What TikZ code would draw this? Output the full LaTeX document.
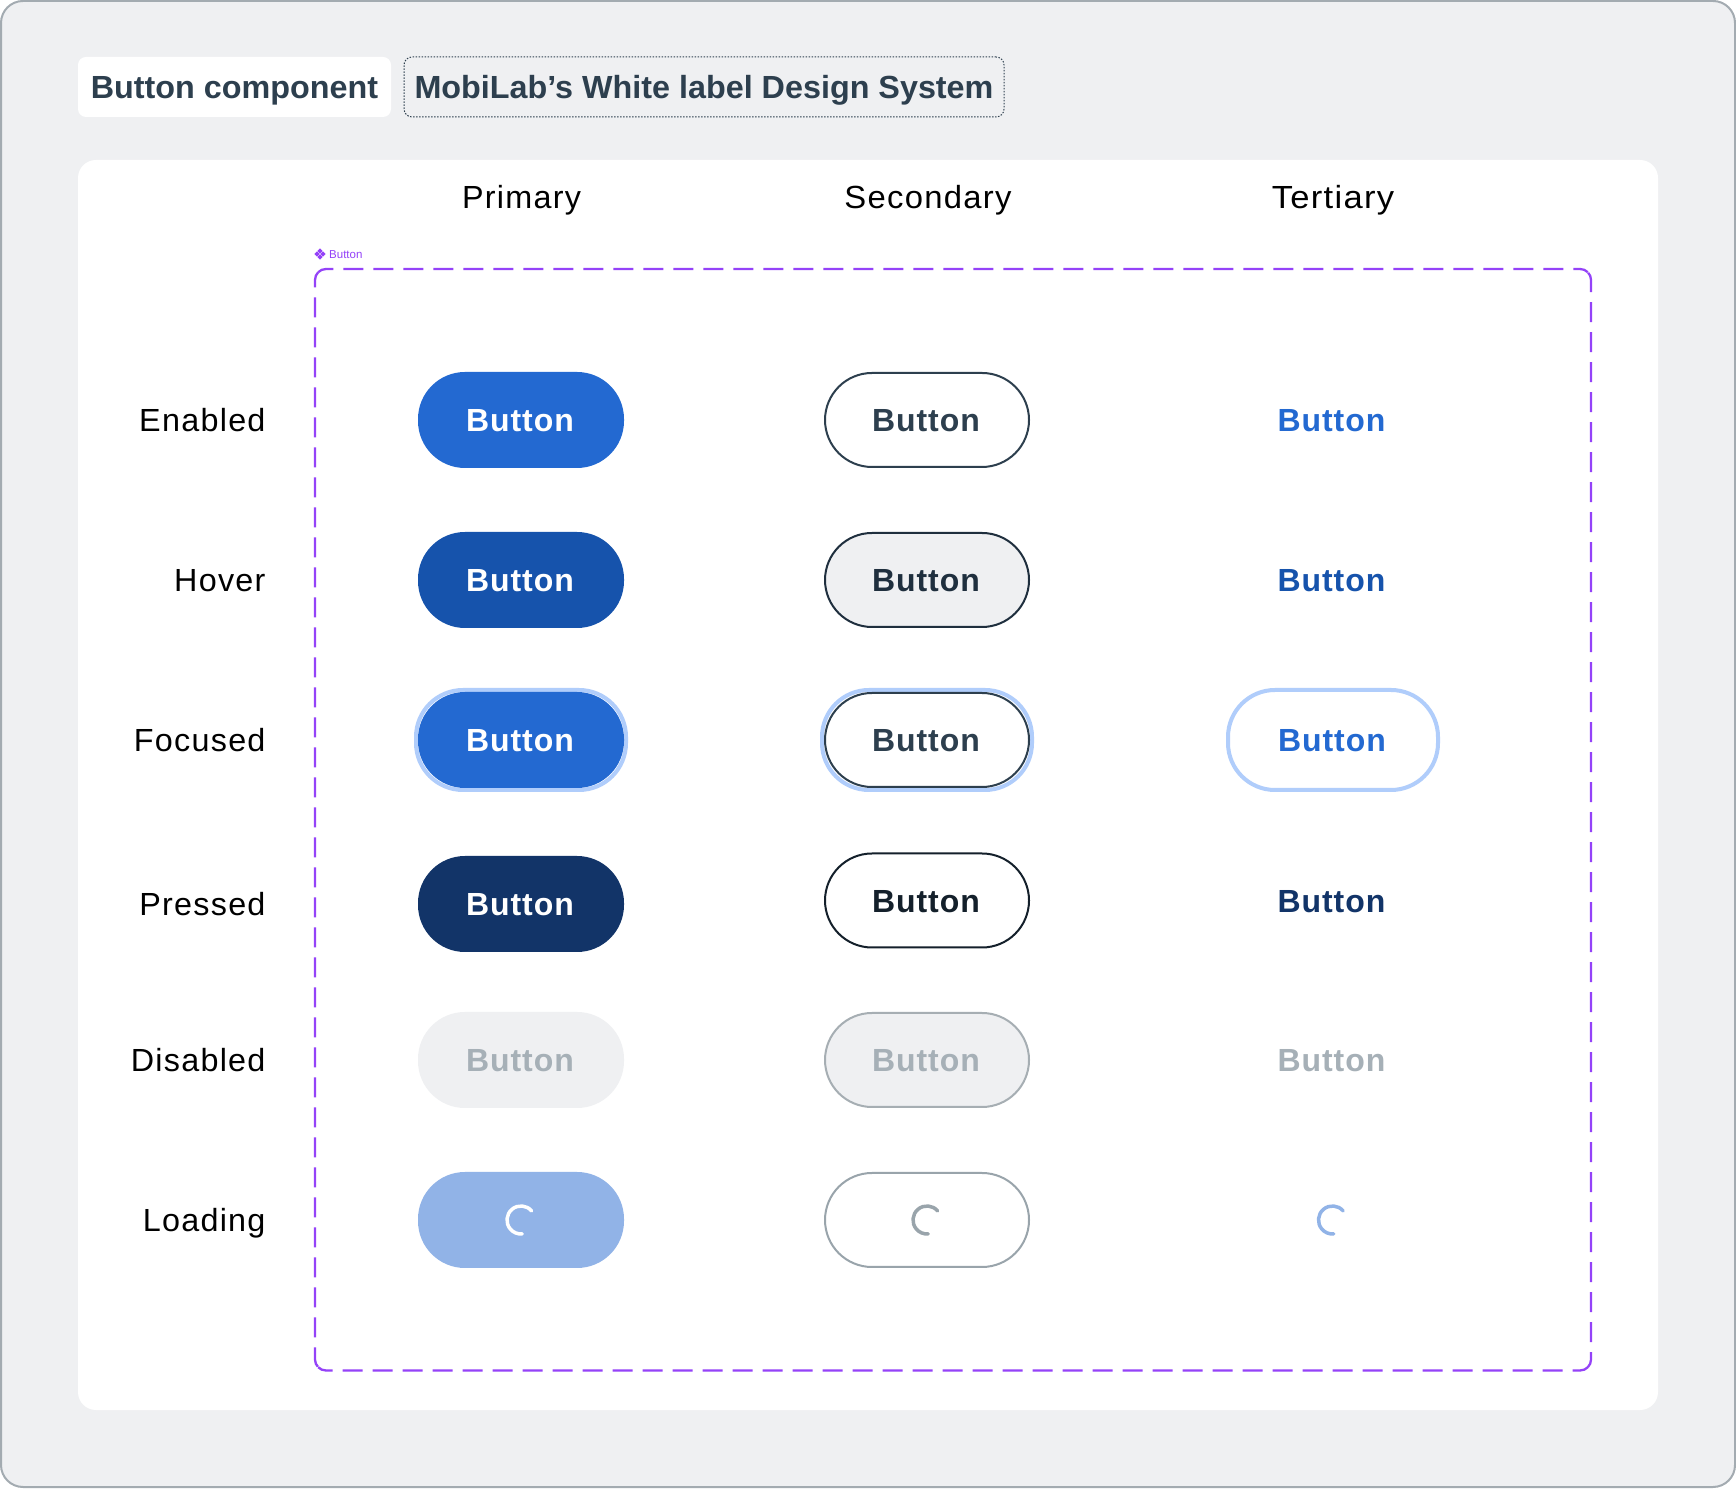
\documentclass[tikz,border=0pt]{standalone}
\usepackage{fontspec}
\setmainfont{Liberation Sans}[LetterSpace=3]
\newfontfamily\chipfont{Liberation Sans}[FakeStretch=1.01]
\newfontfamily\labelfont{Liberation Sans}[LetterSpace=4,FakeStretch=1.01]
\newfontfamily\secfont{Liberation Sans}[LetterSpace=4,FakeStretch=1.025]
\newfontfamily\terfont{Liberation Sans}[LetterSpace=4,FakeStretch=1.08]
\newfontfamily\tagfont{Liberation Sans}
\definecolor{pagebg}{HTML}{EFF0F2}
\definecolor{pageedge}{HTML}{A3ABB1}
\definecolor{ink}{HTML}{2D3F4E}
\definecolor{inkhover}{HTML}{1F2F3E}
\definecolor{inkpress}{HTML}{14202B}
\definecolor{btnblue}{HTML}{2369D1}
\definecolor{bluehover}{HTML}{1653AC}
\definecolor{bluepress}{HTML}{123468}
\definecolor{bluelight}{HTML}{91B3E7}
\definecolor{ringblue}{HTML}{B0CDFB}
\definecolor{greytext}{HTML}{A6B0B7}
\definecolor{greyedge}{HTML}{A6AEB3}
\definecolor{greyload}{HTML}{99A4AB}
\definecolor{framevio}{HTML}{9442F8}
\tikzset{
  x=1pt,y=1pt,
  btnfont/.style={inner sep=0pt,text height=24pt,text depth=0pt,font=\fontsize{32}{36}\selectfont\bfseries},
  pill/.style={btnfont,shape=rectangle,rounded corners=47pt},
  solidbtn/.style={pill,minimum width=206pt,minimum height=96pt,fill=#1,text=white},
  outlinebtn/.style={pill,minimum width=204pt,minimum height=94pt,draw=#1,line width=2pt,fill=white},
  ringbtn/.style={pill,minimum width=210pt,minimum height=100pt,draw=ringblue,line width=4pt,fill=white},
  textbtn/.style={btnfont,text=#1},
  rowlabel/.style={anchor=base east,inner sep=0pt,text=black,font=\labelfont\fontsize{32}{36}\selectfont},
  collabel/.style={anchor=base,inner sep=0pt,text=black,font=\labelfont\fontsize{32}{36}\selectfont},
  chip/.style={inner sep=0pt,text height=24pt,text depth=0pt,rounded corners=8pt,minimum height=60pt,text=ink,
    font=\chipfont\fontsize{32}{36}\selectfont\bfseries},
  spinner/.style={line width=3.5pt,line cap=round,draw=#1},
  tagmark/.style={fill=framevio},
  frameside/.style={framevio,line width=2.3pt,dash pattern=on 20pt off 10pt,dash phase=4pt}
}
\newcommand{\spinat}[2]{\draw[spinner=#2] ([shift={(40:14pt)}]#1.center) arc[start angle=40,end angle=275,radius=14pt];}
\newcommand{\tagdiamond}[2]{\fill[tagmark] (#1+2.6,#2) -- (#1,#2+2.6) -- (#1-2.6,#2) -- (#1,#2-2.6) -- cycle;}
\newcommand{\btntext}{Button\hspace*{2pt}}
\begin{document}
\begin{tikzpicture}
\useasboundingbox (0,0) rectangle (1736,1488);
\draw[fill=pagebg,draw=pageedge,line width=2pt,rounded corners=22pt] (1,1) rectangle (1735,1487);
\fill[white,rounded corners=18pt] (78,78) rectangle (1658,1328);
% title chips
\node[chip,fill=white,minimum width=313pt] (titleA) at (234.5,1401) {Button component};
\node[chip,draw=ink,line width=1pt,dash pattern=on 1.5pt off 1.5pt,minimum width=600pt] (titleB) at (704,1401) {MobiLab’s White label Design System};
% column heads
\node[collabel] (colP) at (521.5,1279.5) {Primary};
\node[collabel,font=\secfont\fontsize{32}{36}\selectfont] (colS) at (928,1279.5) {Secondary};
\node[collabel,font=\terfont\fontsize{32}{36}\selectfont] (colT) at (1333,1279.5) {Tertiary};
% row labels
\node[rowlabel] (rowE) at (265.7,1056) {Enabled};
\node[rowlabel] (rowH) at (265.7,896) {Hover};
\node[rowlabel] (rowF) at (265.7,736) {Focused};
\node[rowlabel] (rowP) at (265.7,572) {Pressed};
\node[rowlabel] (rowD) at (265.7,416) {Disabled};
\node[rowlabel] (rowL) at (265.7,256) {Loading};
% component frame: each side is dashed from its own corner
\coordinate (tl) at (326,1208);
\coordinate (br) at (1580,128.5);
\draw[frameside] ([shift={(135:11pt)}]tl) arc[start angle=135,end angle=90,radius=11pt] -- (1580,1219) arc[start angle=90,end angle=45,radius=11pt];
\draw[frameside] ([shift={(135:11pt)}]tl) arc[start angle=135,end angle=180,radius=11pt] -- (315,128.5) arc[start angle=180,end angle=225,radius=11pt];
\draw[frameside] ([shift={(-45:11pt)}]br) arc[start angle=-45,end angle=0,radius=11pt] -- (1591,1208) arc[start angle=0,end angle=45,radius=11pt];
\draw[frameside] ([shift={(-45:11pt)}]br) arc[start angle=-45,end angle=-90,radius=11pt] -- (326,117.5) arc[start angle=-90,end angle=-135,radius=11pt];
\tagdiamond{320}{1237}\tagdiamond{320}{1231}\tagdiamond{317}{1234}\tagdiamond{323}{1234}
\node[anchor=base west,inner sep=0pt,text=framevio,font=\tagfont\fontsize{11.5}{14}\selectfont] (tag) at (329,1229.5) {Button};
% primary
\node[solidbtn=btnblue] (pE) at (521,1068) {\btntext};
\node[solidbtn=bluehover] (pH) at (521,908) {\btntext};
\node[ringbtn] (pFring) at (521,748) {};
\node[solidbtn=btnblue] (pF) at (521,748) {\btntext};
\node[solidbtn=bluepress] (pP) at (521,584) {\btntext};
\node[solidbtn=pagebg,text=greytext] (pD) at (521,428) {\btntext};
\node[solidbtn=bluelight] (pL) at (521,268) {};
\spinat{pL}{white}
% secondary
\node[outlinebtn=ink,text=ink] (sE) at (927,1068) {\btntext};
\node[outlinebtn=inkhover,fill=pagebg,text=inkhover] (sH) at (927,908) {\btntext};
\node[ringbtn] (sFring) at (927,748) {};
\node[outlinebtn=ink,text=ink] (sF) at (927,748) {\btntext};
\node[outlinebtn=inkpress,text=inkpress] (sP) at (927,587.5) {\btntext};
\node[outlinebtn=greyedge,fill=pagebg,text=greytext] (sD) at (927,428) {\btntext};
\node[outlinebtn=greyload] (sL) at (927,268) {};
\spinat{sL}{greyload}
% tertiary
\node[textbtn=btnblue] (tE) at (1332.5,1068) {\btntext};
\node[textbtn=bluehover] (tH) at (1332.5,908) {\btntext};
\node[ringbtn,text=btnblue] (tF) at (1333,748) {\btntext};
\node[textbtn=bluepress] (tP) at (1332.5,587.5) {\btntext};
\node[textbtn=greytext] (tD) at (1332.5,428) {\btntext};
\coordinate (tL) at (1332.5,268);
\spinat{tL}{bluelight}
\end{tikzpicture}
\end{document}
